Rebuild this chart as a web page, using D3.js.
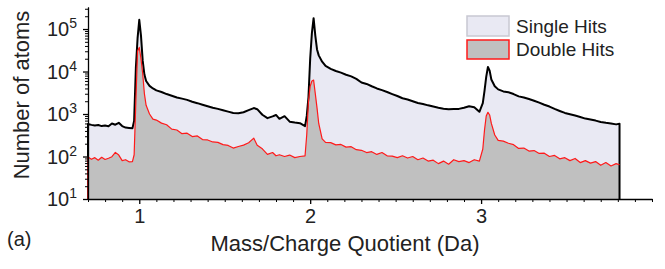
<!DOCTYPE html>
<meta charset="utf-8">
<script src="https://d3js.org/d3.v7.min.js"></script>
<style>
  body { margin: 0; background: #fff; }
  text { font-family: "Liberation Sans", Arial, sans-serif; fill: #222; }
</style>
<div id="my_dataviz"></div>

<script>
// mass/charge positions (Da)
var mz = [0.70, 0.72, 0.74, 0.76, 0.78, 0.80, 0.82, 0.84, 0.86, 0.88, 0.90, 0.92, 0.94, 0.96, 0.97, 0.98, 0.99,
  1.00, 1.01, 1.02, 1.03, 1.04, 1.06, 1.08, 1.10, 1.13, 1.16, 1.19, 1.22, 1.25, 1.28, 1.31, 1.34, 1.37, 1.40,
  1.43, 1.46, 1.49, 1.52, 1.55, 1.58, 1.61, 1.64, 1.67, 1.69, 1.72, 1.75, 1.78, 1.80, 1.82, 1.85, 1.88, 1.91,
  1.94, 1.97, 1.98, 1.99, 2.00, 2.01, 2.02, 2.03, 2.04, 2.05, 2.07, 2.09, 2.12, 2.15, 2.18, 2.21, 2.24, 2.27,
  2.30, 2.33, 2.36, 2.39, 2.42, 2.45, 2.48, 2.51, 2.54, 2.57, 2.60, 2.63, 2.66, 2.69, 2.72, 2.75, 2.78, 2.81,
  2.84, 2.87, 2.90, 2.93, 2.96, 2.99, 3.01, 3.02, 3.03, 3.04, 3.05, 3.06, 3.08, 3.10, 3.13, 3.16, 3.19, 3.22,
  3.25, 3.28, 3.31, 3.34, 3.37, 3.40, 3.43, 3.46, 3.49, 3.52, 3.55, 3.58, 3.61, 3.64, 3.67, 3.70, 3.73, 3.76,
  3.79, 3.81];

// single hits (black line)
var singleHits = [580, 555, 535, 550, 520, 535, 515, 600, 560, 620, 520, 480, 470, 460, 700, 12000, 60000,
  165000, 70000, 18000, 8500, 6000, 4600, 4000, 3600, 3300, 2950, 2700, 2450, 2300, 2150, 1950, 1800, 1650, 1520,
  1400, 1320, 1230, 1140, 1060, 1040, 1100, 1230, 1380, 1300, 960, 800, 880, 950, 770, 890, 660, 630,
  610, 520, 900, 2500, 20000, 80000, 180000, 70000, 33000, 24000, 17000, 13500, 11500, 10300, 9400, 8400, 7700, 6700,
  5500, 5100, 4500, 4000, 3650, 3300, 2950, 2650, 2350, 2200, 2000, 1820, 1720, 1600, 1500, 1400, 1330, 1300,
  1310, 1320, 1400, 1520, 1450, 1130, 1800, 3500, 7500, 12800, 10500, 6500, 4500, 3800, 3400, 3250, 2950, 2600,
  2450, 2250, 2050, 1850, 1650, 1500, 1320, 1180, 1060, 990, 920, 850, 780, 740, 700, 650, 620, 600,
  570, 590];

// double hits (red line)
var doubleHits = [97, 86, 94, 82, 96, 85, 91, 99, 125, 108, 80, 84, 75, 76, 110, 2000, 30000,
  37000, 20000, 9000, 3000, 1600, 1000, 760, 720, 610, 560, 440, 420, 345, 355, 295, 305, 250, 245,
  220, 215, 190, 182, 158, 172, 185, 210, 270, 185, 152, 112, 124, 104, 110, 100, 108, 94,
  100, 104, 330, 2000, 4500, 6000, 6300, 3000, 1400, 600, 260, 215, 212, 188, 192, 166, 170, 145,
  140, 124, 130, 112, 124, 104, 102, 94, 104, 92, 100, 84, 92, 78, 82, 68, 78, 66,
  84, 76, 80, 72, 84, 78, 150, 420, 900, 1100, 950, 600, 320, 240, 230, 205, 190, 155,
  158, 134, 138, 118, 120, 100, 106, 88, 94, 80, 90, 72, 80, 70, 76, 62, 72, 60,
  68, 64];

var yTickPowers = [1, 2, 3, 4, 5];
var xTickLabels = [1, 2, 3];
var seriesNames = ["Single Hits", "Double Hits"];

var W = 665, H = 269;
var plotLeft = 88, plotRight = 652, plotTop = 7, plotBottom = 199;

var svg = d3.select("#my_dataviz")
  .append("svg")
    .attr("width", W)
    .attr("height", H);

var x = d3.scaleLinear()
  .domain([0.7, 4.0])
  .range([plotLeft, plotRight]);

var y = d3.scaleLog()
  .domain([10, 3.3e5])
  .range([plotBottom, plotTop]);

var single = mz.map(function(m, i) { return {m: m, v: singleHits[i]}; });
var dbl = mz.map(function(m, i) { return {m: m, v: doubleHits[i]}; });

var area = d3.area()
  .x(function(d) { return x(d.m); })
  .y0(plotBottom)
  .y1(function(d) { return y(d.v); });

// fills first
svg.append("path").datum(single)
  .attr("d", area)
  .style("fill", "#e9e9f3");
svg.append("path").datum(dbl)
  .attr("d", area)
  .style("fill", "#c0c0c0");

// outlines, with the vertical edges down to the floor
var first = mz[0], last = mz[mz.length - 1];
var line = d3.line()
  .x(function(d) { return x(d.m); })
  .y(function(d) { return d.floor ? plotBottom : y(d.v); });

svg.append("path")
  .datum([{m: first, floor: true}].concat(single, [{m: last, floor: true}]))
  .attr("d", line)
  .style("fill", "none")
  .style("stroke", "#000")
  .style("stroke-width", 2)
  .style("stroke-linejoin", "round");

svg.append("path")
  .datum([{m: first, floor: true}].concat(dbl))
  .attr("d", line)
  .style("fill", "none")
  .style("stroke", "#ff1a1a")
  .style("stroke-width", 1.2)
  .style("stroke-linejoin", "round");

// Y axis: major + minor log ticks
var minorY = [];
for (var p = 1; p <= 5; p++) {
  for (var k = 2; k <= 9; k++) {
    if (k * Math.pow(10, p) <= 3.3e5) minorY.push(k * Math.pow(10, p));
  }
}
svg.append("g")
  .attr("transform", "translate(" + plotLeft + ",0)")
  .call(d3.axisLeft(y).tickValues(minorY).tickSize(3).tickSizeOuter(0).tickFormat(""));
var yAxis = svg.append("g")
  .attr("transform", "translate(" + plotLeft + ",0)")
  .call(d3.axisLeft(y).tickValues(yTickPowers.map(function(p) { return Math.pow(10, p); }))
    .tickSize(5).tickSizeOuter(0).tickFormat(""));
yAxis.selectAll("path, line").style("stroke-width", 1.3);

var yLab = svg.append("g").selectAll("text")
  .data(yTickPowers)
  .enter()
  .append("text")
    .attr("x", 77)
    .attr("y", function(p) { return y(Math.pow(10, p)) + 7; })
    .attr("text-anchor", "end")
    .style("font-size", "20px");
yLab.append("tspan").text("10");
yLab.append("tspan")
  .attr("dy", -8)
  .style("font-size", "14px")
  .text(function(p) { return p; });

// X axis: major + minor ticks
var minorX = d3.range(7, 41).map(function(i) { return i / 10; })
  .filter(function(v) { return xTickLabels.indexOf(v) < 0; });
svg.append("g")
  .attr("transform", "translate(0," + plotBottom + ")")
  .call(d3.axisBottom(x).tickValues(minorX).tickSize(3).tickSizeOuter(0).tickFormat(""));
var xAxis = svg.append("g")
  .attr("transform", "translate(0," + plotBottom + ")")
  .call(d3.axisBottom(x).tickValues(xTickLabels).tickSize(5).tickSizeOuter(0).tickFormat(d3.format("d")));
xAxis.selectAll("path, line").style("stroke-width", 1.3);
xAxis.selectAll("text")
  .attr("y", 10)
  .style("font-size", "20px")
  .style("font-family", "Liberation Sans, Arial, sans-serif")
  .style("fill", "#222");

// axis titles
svg.append("text")
  .attr("x", 345)
  .attr("y", 251)
  .attr("text-anchor", "middle")
  .style("font-size", "22px")
  .text("Mass/Charge Quotient (Da)");

svg.append("text")
  .attr("transform", "rotate(-90)")
  .attr("x", -95)
  .attr("y", 29)
  .attr("text-anchor", "middle")
  .style("font-size", "22px")
  .text("Number of atoms");

svg.append("text")
  .attr("x", 7)
  .attr("y", 246)
  .style("font-size", "20px")
  .text("(a)");

// legend
var legend = svg.append("g");
legend.append("rect")
  .attr("x", 467).attr("y", 16).attr("width", 42).attr("height", 20)
  .style("fill", "#e9e9f3").style("stroke", "#c8c8d2").style("stroke-width", 1.5);
legend.append("rect")
  .attr("x", 467).attr("y", 40).attr("width", 42).attr("height", 19)
  .style("fill", "#c0c0c0").style("stroke", "#ff1a1a").style("stroke-width", 1.5);
legend.selectAll("text.lg")
  .data(seriesNames)
  .enter()
  .append("text")
    .attr("class", "lg")
    .attr("x", 516)
    .attr("y", function(d, i) { return 33 + i * 23; })
    .style("font-size", "19px")
    .text(function(d) { return d; });
</script>
